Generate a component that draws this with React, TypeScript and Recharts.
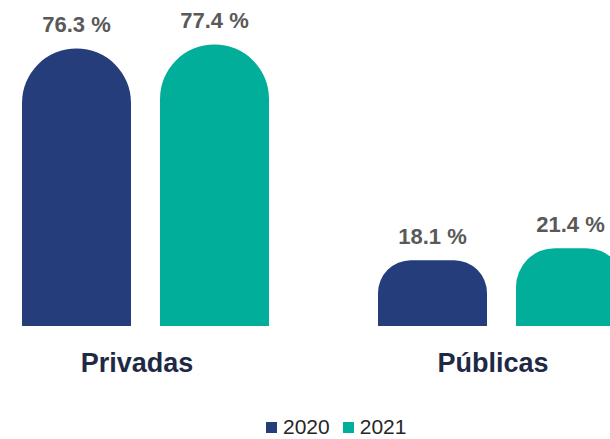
import React from "react";
import { Bar, BarChart, LabelList, Legend, XAxis, YAxis } from "recharts";

const categories = ["Privadas", "Públicas"];
const values2020 = [76.3, 18.1];
const values2021 = [77.4, 21.4];

const COLOR_2020 = "#253d7a";
const COLOR_2021 = "#00ae99";
const FONT = "'Liberation Sans', Arial, sans-serif";

const data = categories.map((name, i) => ({
  name,
  y2020: values2020[i],
  y2021: values2021[i],
}));

function CategoryTick({ x, y, payload }: any) {
  return (
    <text
      x={x - 8}
      y={y + 46}
      textAnchor="middle"
      fontFamily={FONT}
      fontSize={27}
      fontWeight={700}
      fill="#1e2a45"
    >
      {payload.value}
    </text>
  );
}

function LegendContent({ payload }: any) {
  return (
    <div style={{ display: "flex", alignItems: "center", fontFamily: FONT, fontSize: 21, color: "#262626", lineHeight: "24px" }}>
      {(payload || []).map((item: any) => (
        <span key={item.value} style={{ display: "flex", alignItems: "center", marginRight: 13 }}>
          <span style={{ width: 11, height: 11, background: item.color, marginRight: 6, display: "inline-block" }} />
          {item.value}
        </span>
      ))}
    </div>
  );
}

export default function App() {
  return (
    <div style={{ position: "fixed", left: 0, top: 0, width: 610, height: 439, overflow: "hidden", background: "#fff" }}>
      <div style={{ position: "absolute", left: -33, top: 0 }}>
        <BarChart
          width={716}
          height={439}
          data={data}
          margin={{ top: 35, right: 4, left: 0, bottom: 3 }}
          barGap={29}
          barSize={109}
        >
          <XAxis
            dataKey="name"
            axisLine={false}
            tickLine={false}
            tickSize={0}
            tickMargin={0}
            height={86}
            tick={<CategoryTick />}
            interval={0}
          />
          <YAxis hide domain={[0, 80]} />
          <Legend
            content={<LegendContent />}
            verticalAlign="bottom"
            wrapperStyle={{ left: 299, bottom: 0, width: 200 }}
          />
          <Bar dataKey="y2020" name="2020" fill={COLOR_2020} radius={[55, 55, 0, 0]} isAnimationActive={false}>
            <LabelList
              dataKey="y2020"
              position="top"
              offset={16}
              formatter={(v: any) => `${v} %`}
              style={{ fontFamily: FONT, fontSize: 22, fontWeight: 700, fill: "#595959" }}
            />
          </Bar>
          <Bar dataKey="y2021" name="2021" fill={COLOR_2021} radius={[55, 55, 0, 0]} isAnimationActive={false}>
            <LabelList
              dataKey="y2021"
              position="top"
              offset={16}
              formatter={(v: any) => `${v} %`}
              style={{ fontFamily: FONT, fontSize: 22, fontWeight: 700, fill: "#595959" }}
            />
          </Bar>
        </BarChart>
      </div>
    </div>
  );
}
